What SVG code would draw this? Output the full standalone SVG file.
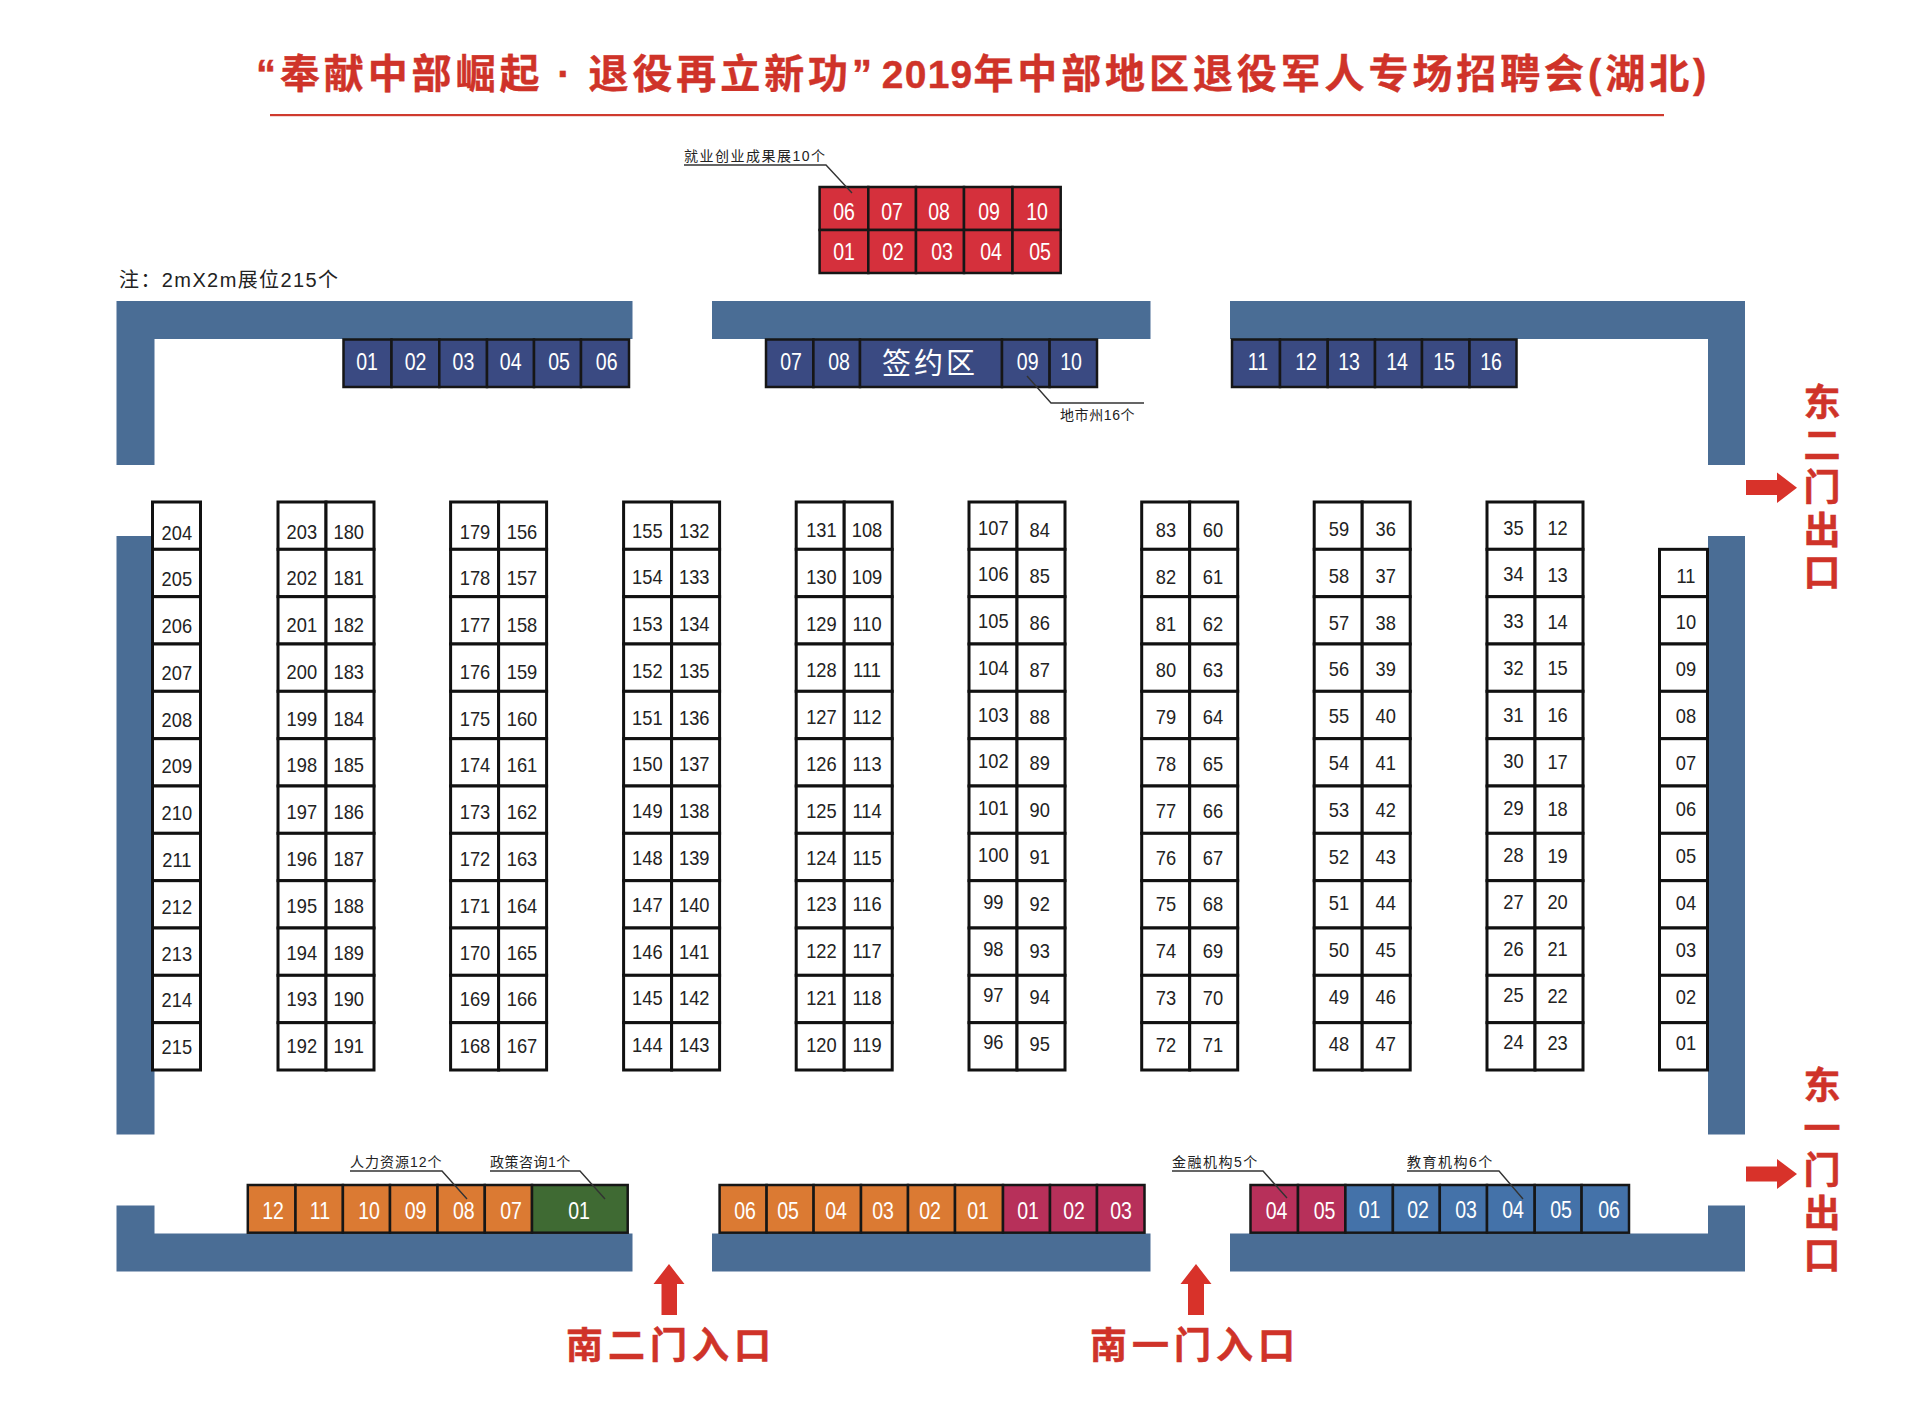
<svg xmlns="http://www.w3.org/2000/svg" width="1920" height="1416" viewBox="0 0 1920 1416">
<style>
text{font-family:"Liberation Sans","Noto Sans CJK SC",sans-serif}
.wall{fill:#4a6d95}
.w{fill:#fff;stroke:#111;stroke-width:3}
.b{stroke:#161616;stroke-width:2.5}
.navy{fill:#3a4a82}.red{fill:#d5303c}.org{fill:#db7a33}.grn{fill:#3f6a33}.mag{fill:#b7305a}.blu{fill:#4472a9}
.n{font-size:21px;fill:#222;text-anchor:middle}
.k{font-size:23px;fill:#fff;text-anchor:middle}
.s{font-size:14px;fill:#222}
.d{font-family:"Noto Sans CJK SC","Liberation Sans",sans-serif;font-size:37px;font-weight:700;fill:#cf3329;stroke:#cf3329;stroke-width:.5}
.h{text-anchor:middle;letter-spacing:5px}
.v{writing-mode:vertical-rl;letter-spacing:5.5px}
.l{fill:none;stroke:#333;stroke-width:1.4}
.a{fill:#d8322a}
</style>
<defs>
<g id="col12">
<rect class="w" x="0" y="502" width="48" height="47.33"/><rect class="w" x="0" y="549.33" width="48" height="47.33"/><rect class="w" x="0" y="596.67" width="48" height="47.33"/><rect class="w" x="0" y="644" width="48" height="47.33"/><rect class="w" x="0" y="691.33" width="48" height="47.33"/><rect class="w" x="0" y="738.67" width="48" height="47.33"/><rect class="w" x="0" y="786" width="48" height="47.33"/><rect class="w" x="0" y="833.33" width="48" height="47.33"/><rect class="w" x="0" y="880.67" width="48" height="47.33"/><rect class="w" x="0" y="928" width="48" height="47.33"/><rect class="w" x="0" y="975.33" width="48" height="47.33"/><rect class="w" x="0" y="1022.67" width="48" height="47.33"/>
</g>
<g id="pair"><use href="#col12"/><use href="#col12" x="48"/></g>
</defs>
<rect width="1920" height="1416" fill="#fff"/>

<g id="title">
<text x="256" y="88" font-size="40" font-weight="700" fill="#cf3329" stroke="#cf3329" stroke-width=".4" letter-spacing="3.9">“奉献中部崛起<tspan dx="14">·</tspan><tspan dx="14">退</tspan>役再立新功”<tspan dx="6" font-size="39" letter-spacing="1.2">2019</tspan>年中部地区退役军人专场招聘会(湖北)</text>
<rect x="270" y="114" width="1394" height="2.2" fill="#cf3a2e"/>
</g>

<g id="walls">
<path class="wall" d="M116.5 301H632.5V339H154.5V465H116.5Z"/>
<rect class="wall" x="712" y="301" width="438.5" height="38"/>
<path class="wall" d="M1230 301H1745V465H1708V339H1230Z"/>
<rect class="wall" x="116.5" y="536" width="38" height="598.5"/>
<rect class="wall" x="1708" y="536" width="37" height="598.5"/>
<path class="wall" d="M116.5 1205.5H154.5V1233.5H632.5V1271.5H116.5Z"/>
<rect class="wall" x="712" y="1233.5" width="438.5" height="38"/>
<path class="wall" d="M1230 1233.5H1708V1205.5H1745V1271.5H1230Z"/>
</g>

<g id="booths-achievement">
<rect class="b red" x="819.6" y="187" width="48.7" height="43"/><rect class="b red" x="868.3" y="187" width="47.7" height="43"/><rect class="b red" x="916" y="187" width="48" height="43"/><rect class="b red" x="964" y="187" width="48.5" height="43"/><rect class="b red" x="1012.5" y="187" width="48.2" height="43"/>
<rect class="b red" x="819.6" y="230" width="48.7" height="43"/><rect class="b red" x="868.3" y="230" width="47.7" height="43"/><rect class="b red" x="916" y="230" width="48" height="43"/><rect class="b red" x="964" y="230" width="48.5" height="43"/><rect class="b red" x="1012.5" y="230" width="48.2" height="43"/>
<text class="k" transform="translate(844 220) scale(.85 1)">06</text><text class="k" transform="translate(892 220) scale(.85 1)">07</text><text class="k" transform="translate(939 220) scale(.85 1)">08</text><text class="k" transform="translate(989 220) scale(.85 1)">09</text><text class="k" transform="translate(1037 220) scale(.85 1)">10</text>
<text class="k" transform="translate(844 260) scale(.85 1)">01</text><text class="k" transform="translate(893 260) scale(.85 1)">02</text><text class="k" transform="translate(942 260) scale(.85 1)">03</text><text class="k" transform="translate(991 260) scale(.85 1)">04</text><text class="k" transform="translate(1040 260) scale(.85 1)">05</text>
</g>

<g id="booths-city-left">
<rect class="b navy" x="343.5" y="339.5" width="48" height="47.5"/><rect class="b navy" x="391.5" y="339.5" width="47.8" height="47.5"/><rect class="b navy" x="439.3" y="339.5" width="47.7" height="47.5"/><rect class="b navy" x="487" y="339.5" width="47" height="47.5"/><rect class="b navy" x="534" y="339.5" width="47" height="47.5"/><rect class="b navy" x="581" y="339.5" width="48" height="47.5"/>
<text class="k" transform="translate(367 370) scale(.85 1)">01</text><text class="k" transform="translate(415.6 370) scale(.85 1)">02</text><text class="k" transform="translate(463.4 370) scale(.85 1)">03</text><text class="k" transform="translate(510.7 370) scale(.85 1)">04</text><text class="k" transform="translate(559 370) scale(.85 1)">05</text><text class="k" transform="translate(606.7 370) scale(.85 1)">06</text>
</g>
<g id="booths-city-mid">
<rect class="b navy" x="766" y="339.5" width="47.4" height="47.5"/><rect class="b navy" x="813.4" y="339.5" width="46.6" height="47.5"/><rect class="b navy" x="860" y="339.5" width="142" height="47.5"/><rect class="b navy" x="1002" y="339.5" width="47.6" height="47.5"/><rect class="b navy" x="1049.6" y="339.5" width="47.4" height="47.5"/>
<text class="k" transform="translate(791 370) scale(.85 1)">07</text><text class="k" transform="translate(839 370) scale(.85 1)">08</text><text class="k" transform="translate(1027.7 370) scale(.85 1)">09</text><text class="k" transform="translate(1071 370) scale(.85 1)">10</text>
<text x="930" y="374" font-size="29" fill="#fff" text-anchor="middle" letter-spacing="3" style="font-family:'Noto Sans CJK SC',sans-serif">签约区</text>
</g>
<g id="booths-city-right">
<rect class="b navy" x="1232" y="339.5" width="48" height="47.5"/><rect class="b navy" x="1280" y="339.5" width="47.7" height="47.5"/><rect class="b navy" x="1327.7" y="339.5" width="47.3" height="47.5"/><rect class="b navy" x="1375" y="339.5" width="47" height="47.5"/><rect class="b navy" x="1422" y="339.5" width="47.5" height="47.5"/><rect class="b navy" x="1469.5" y="339.5" width="47" height="47.5"/>
<text class="k" transform="translate(1258 370) scale(.85 1)">11</text><text class="k" transform="translate(1306 370) scale(.85 1)">12</text><text class="k" transform="translate(1349 370) scale(.85 1)">13</text><text class="k" transform="translate(1397 370) scale(.85 1)">14</text><text class="k" transform="translate(1444 370) scale(.85 1)">15</text><text class="k" transform="translate(1491 370) scale(.85 1)">16</text>
</g>

<g id="booths-south-left">
<rect class="b org" x="247.8" y="1185" width="47.7" height="47.7"/><rect class="b org" x="295.5" y="1185" width="47.4" height="47.7"/><rect class="b org" x="342.9" y="1185" width="47.1" height="47.7"/><rect class="b org" x="390" y="1185" width="47.5" height="47.7"/><rect class="b org" x="437.5" y="1185" width="47.3" height="47.7"/><rect class="b org" x="484.8" y="1185" width="47.2" height="47.7"/><rect class="b grn" x="532" y="1185" width="95.7" height="47.7"/>
<text class="k" transform="translate(273 1219) scale(.85 1)">12</text><text class="k" transform="translate(320 1219) scale(.85 1)">11</text><text class="k" transform="translate(369 1219) scale(.85 1)">10</text><text class="k" transform="translate(415.6 1219) scale(.85 1)">09</text><text class="k" transform="translate(463.8 1219) scale(.85 1)">08</text><text class="k" transform="translate(511 1219) scale(.85 1)">07</text><text class="k" transform="translate(579 1219) scale(.85 1)">01</text>
</g>
<g id="booths-south-mid">
<rect class="b org" x="719.6" y="1185" width="47" height="47.7"/><rect class="b org" x="766.6" y="1185" width="47" height="47.7"/><rect class="b org" x="813.6" y="1185" width="47.4" height="47.7"/><rect class="b org" x="861" y="1185" width="47" height="47.7"/><rect class="b org" x="908" y="1185" width="47" height="47.7"/><rect class="b org" x="955" y="1185" width="48" height="47.7"/><rect class="b mag" x="1003" y="1185" width="47" height="47.7"/><rect class="b mag" x="1050" y="1185" width="47" height="47.7"/><rect class="b mag" x="1097" y="1185" width="47.5" height="47.7"/>
<text class="k" transform="translate(745 1219) scale(.85 1)">06</text><text class="k" transform="translate(788 1219) scale(.85 1)">05</text><text class="k" transform="translate(836 1219) scale(.85 1)">04</text><text class="k" transform="translate(883 1219) scale(.85 1)">03</text><text class="k" transform="translate(930 1219) scale(.85 1)">02</text><text class="k" transform="translate(978 1219) scale(.85 1)">01</text><text class="k" transform="translate(1028 1219) scale(.85 1)">01</text><text class="k" transform="translate(1074 1219) scale(.85 1)">02</text><text class="k" transform="translate(1121 1219) scale(.85 1)">03</text>
</g>
<g id="booths-south-right">
<rect class="b mag" x="1250.5" y="1185" width="47.5" height="47.7"/><rect class="b mag" x="1298" y="1185" width="47.4" height="47.7"/><rect class="b blu" x="1345.4" y="1185" width="47.5" height="47.7"/><rect class="b blu" x="1392.9" y="1185" width="46.9" height="47.7"/><rect class="b blu" x="1439.8" y="1185" width="47.2" height="47.7"/><rect class="b blu" x="1487" y="1185" width="47.7" height="47.7"/><rect class="b blu" x="1534.7" y="1185" width="46.9" height="47.7"/><rect class="b blu" x="1581.6" y="1185" width="47.4" height="47.7"/>
<text class="k" transform="translate(1276.5 1218.5) scale(.85 1)">04</text><text class="k" transform="translate(1324.5 1218.5) scale(.85 1)">05</text><text class="k" transform="translate(1369.5 1218) scale(.85 1)">01</text><text class="k" transform="translate(1418 1218) scale(.85 1)">02</text><text class="k" transform="translate(1466 1218) scale(.85 1)">03</text><text class="k" transform="translate(1513 1218) scale(.85 1)">04</text><text class="k" transform="translate(1561 1218) scale(.85 1)">05</text><text class="k" transform="translate(1609 1218) scale(.85 1)">06</text>
</g>

<g id="stands">
<use href="#col12" x="152.5"/>
<use href="#pair" x="278"/><use href="#pair" x="450.6"/><use href="#pair" x="623.6"/><use href="#pair" x="796.2"/><use href="#pair" x="969"/><use href="#pair" x="1141.7"/><use href="#pair" x="1314.2"/><use href="#pair" x="1487"/>
<rect class="w" x="1659.5" y="549.33" width="48" height="47.33"/><rect class="w" x="1659.5" y="596.67" width="48" height="47.33"/><rect class="w" x="1659.5" y="644" width="48" height="47.33"/><rect class="w" x="1659.5" y="691.33" width="48" height="47.33"/><rect class="w" x="1659.5" y="738.67" width="48" height="47.33"/><rect class="w" x="1659.5" y="786" width="48" height="47.33"/><rect class="w" x="1659.5" y="833.33" width="48" height="47.33"/><rect class="w" x="1659.5" y="880.67" width="48" height="47.33"/><rect class="w" x="1659.5" y="928" width="48" height="47.33"/><rect class="w" x="1659.5" y="975.33" width="48" height="47.33"/><rect class="w" x="1659.5" y="1022.67" width="48" height="47.33"/>
</g>

<g id="stand-numbers">
<g transform="translate(176.8 539.5) scale(.87 1)"><text class="n">204</text><text class="n" y="46.8">205</text><text class="n" y="93.6">206</text><text class="n" y="140.4">207</text><text class="n" y="187.2">208</text><text class="n" y="234">209</text><text class="n" y="280.8">210</text><text class="n" y="327.6">211</text><text class="n" y="374.4">212</text><text class="n" y="421.2">213</text><text class="n" y="468">214</text><text class="n" y="514.8">215</text></g>
<g transform="translate(301.8 538.5) scale(.87 1)"><text class="n">203</text><text class="n" y="46.8">202</text><text class="n" y="93.6">201</text><text class="n" y="140.4">200</text><text class="n" y="187.2">199</text><text class="n" y="234">198</text><text class="n" y="280.8">197</text><text class="n" y="327.6">196</text><text class="n" y="374.4">195</text><text class="n" y="421.2">194</text><text class="n" y="468">193</text><text class="n" y="514.8">192</text></g>
<g transform="translate(348.7 538.5) scale(.87 1)"><text class="n">180</text><text class="n" y="46.8">181</text><text class="n" y="93.6">182</text><text class="n" y="140.4">183</text><text class="n" y="187.2">184</text><text class="n" y="234">185</text><text class="n" y="280.8">186</text><text class="n" y="327.6">187</text><text class="n" y="374.4">188</text><text class="n" y="421.2">189</text><text class="n" y="468">190</text><text class="n" y="514.8">191</text></g>
<g transform="translate(475 538.5) scale(.87 1)"><text class="n">179</text><text class="n" y="46.8">178</text><text class="n" y="93.6">177</text><text class="n" y="140.4">176</text><text class="n" y="187.2">175</text><text class="n" y="234">174</text><text class="n" y="280.8">173</text><text class="n" y="327.6">172</text><text class="n" y="374.4">171</text><text class="n" y="421.2">170</text><text class="n" y="468">169</text><text class="n" y="514.8">168</text></g>
<g transform="translate(522 538.5) scale(.87 1)"><text class="n">156</text><text class="n" y="46.8">157</text><text class="n" y="93.6">158</text><text class="n" y="140.4">159</text><text class="n" y="187.2">160</text><text class="n" y="234">161</text><text class="n" y="280.8">162</text><text class="n" y="327.6">163</text><text class="n" y="374.4">164</text><text class="n" y="421.2">165</text><text class="n" y="468">166</text><text class="n" y="514.8">167</text></g>
<g transform="translate(647.3 537.5) scale(.87 1)"><text class="n">155</text><text class="n" y="46.8">154</text><text class="n" y="93.6">153</text><text class="n" y="140.4">152</text><text class="n" y="187.2">151</text><text class="n" y="234">150</text><text class="n" y="280.8">149</text><text class="n" y="327.6">148</text><text class="n" y="374.4">147</text><text class="n" y="421.2">146</text><text class="n" y="468">145</text><text class="n" y="514.8">144</text></g>
<g transform="translate(694.2 537.5) scale(.87 1)"><text class="n">132</text><text class="n" y="46.8">133</text><text class="n" y="93.6">134</text><text class="n" y="140.4">135</text><text class="n" y="187.2">136</text><text class="n" y="234">137</text><text class="n" y="280.8">138</text><text class="n" y="327.6">139</text><text class="n" y="374.4">140</text><text class="n" y="421.2">141</text><text class="n" y="468">142</text><text class="n" y="514.8">143</text></g>
<g transform="translate(821.4 537) scale(.87 1)"><text class="n">131</text><text class="n" y="46.8">130</text><text class="n" y="93.6">129</text><text class="n" y="140.4">128</text><text class="n" y="187.2">127</text><text class="n" y="234">126</text><text class="n" y="280.8">125</text><text class="n" y="327.6">124</text><text class="n" y="374.4">123</text><text class="n" y="421.2">122</text><text class="n" y="468">121</text><text class="n" y="514.8">120</text></g>
<g transform="translate(867 537) scale(.87 1)"><text class="n">108</text><text class="n" y="46.8">109</text><text class="n" y="93.6">110</text><text class="n" y="140.4">111</text><text class="n" y="187.2">112</text><text class="n" y="234">113</text><text class="n" y="280.8">114</text><text class="n" y="327.6">115</text><text class="n" y="374.4">116</text><text class="n" y="421.2">117</text><text class="n" y="468">118</text><text class="n" y="514.8">119</text></g>
<g transform="translate(993.3 534.5) scale(.87 1)"><text class="n">107</text><text class="n" y="46.8">106</text><text class="n" y="93.6">105</text><text class="n" y="140.4">104</text><text class="n" y="187.2">103</text><text class="n" y="234">102</text><text class="n" y="280.8">101</text><text class="n" y="327.6">100</text><text class="n" y="374.4">99</text><text class="n" y="421.2">98</text><text class="n" y="468">97</text><text class="n" y="514.8">96</text></g>
<g transform="translate(1039.7 536.5) scale(.87 1)"><text class="n">84</text><text class="n" y="46.8">85</text><text class="n" y="93.6">86</text><text class="n" y="140.4">87</text><text class="n" y="187.2">88</text><text class="n" y="234">89</text><text class="n" y="280.8">90</text><text class="n" y="327.6">91</text><text class="n" y="374.4">92</text><text class="n" y="421.2">93</text><text class="n" y="468">94</text><text class="n" y="514.8">95</text></g>
<g transform="translate(1166 537) scale(.87 1)"><text class="n">83</text><text class="n" y="46.8">82</text><text class="n" y="93.6">81</text><text class="n" y="140.4">80</text><text class="n" y="187.2">79</text><text class="n" y="234">78</text><text class="n" y="280.8">77</text><text class="n" y="327.6">76</text><text class="n" y="374.4">75</text><text class="n" y="421.2">74</text><text class="n" y="468">73</text><text class="n" y="514.8">72</text></g>
<g transform="translate(1213 537) scale(.87 1)"><text class="n">60</text><text class="n" y="46.8">61</text><text class="n" y="93.6">62</text><text class="n" y="140.4">63</text><text class="n" y="187.2">64</text><text class="n" y="234">65</text><text class="n" y="280.8">66</text><text class="n" y="327.6">67</text><text class="n" y="374.4">68</text><text class="n" y="421.2">69</text><text class="n" y="468">70</text><text class="n" y="514.8">71</text></g>
<g transform="translate(1339 536) scale(.87 1)"><text class="n">59</text><text class="n" y="46.8">58</text><text class="n" y="93.6">57</text><text class="n" y="140.4">56</text><text class="n" y="187.2">55</text><text class="n" y="234">54</text><text class="n" y="280.8">53</text><text class="n" y="327.6">52</text><text class="n" y="374.4">51</text><text class="n" y="421.2">50</text><text class="n" y="468">49</text><text class="n" y="514.8">48</text></g>
<g transform="translate(1385.7 536) scale(.87 1)"><text class="n">36</text><text class="n" y="46.8">37</text><text class="n" y="93.6">38</text><text class="n" y="140.4">39</text><text class="n" y="187.2">40</text><text class="n" y="234">41</text><text class="n" y="280.8">42</text><text class="n" y="327.6">43</text><text class="n" y="374.4">44</text><text class="n" y="421.2">45</text><text class="n" y="468">46</text><text class="n" y="514.8">47</text></g>
<g transform="translate(1513.5 534.5) scale(.87 1)"><text class="n">35</text><text class="n" y="46.8">34</text><text class="n" y="93.6">33</text><text class="n" y="140.4">32</text><text class="n" y="187.2">31</text><text class="n" y="234">30</text><text class="n" y="280.8">29</text><text class="n" y="327.6">28</text><text class="n" y="374.4">27</text><text class="n" y="421.2">26</text><text class="n" y="468">25</text><text class="n" y="514.8">24</text></g>
<g transform="translate(1557.6 535) scale(.87 1)"><text class="n">12</text><text class="n" y="46.8">13</text><text class="n" y="93.6">14</text><text class="n" y="140.4">15</text><text class="n" y="187.2">16</text><text class="n" y="234">17</text><text class="n" y="280.8">18</text><text class="n" y="327.6">19</text><text class="n" y="374.4">20</text><text class="n" y="421.2">21</text><text class="n" y="468">22</text><text class="n" y="514.8">23</text></g>
<g transform="translate(1686 582.5) scale(.87 1)"><text class="n">11</text><text class="n" y="46.8">10</text><text class="n" y="93.6">09</text><text class="n" y="140.4">08</text><text class="n" y="187.2">07</text><text class="n" y="234">06</text><text class="n" y="280.8">05</text><text class="n" y="327.6">04</text><text class="n" y="374.4">03</text><text class="n" y="421.2">02</text><text class="n" y="468">01</text></g>
</g>

<g id="connectors">
<path class="l" d="M684 165H826L852 193"/>
<path class="l" d="M1027 376L1051 403H1144"/>
<path class="l" d="M350 1171H442L467 1199"/>
<path class="l" d="M490 1171H580L605 1199"/>
<path class="l" d="M1172 1171H1263L1287 1198"/>
<path class="l" d="M1407 1171H1499L1523 1199"/>
</g>

<g id="labels">
<text x="119" y="287" font-size="20" fill="#222" letter-spacing="1.4">注：2mX2m展位215个</text>
<text class="s" x="684" y="161" letter-spacing="1.5">就业创业成果展10个</text>
<text class="s" x="1060" y="420" letter-spacing=".6">地市州16个</text>
<text class="s" x="350" y="1167" letter-spacing="1">人力资源12个</text>
<text class="s" x="490" y="1167" letter-spacing=".5">政策咨询1个</text>
<text class="s" x="1172" y="1167" letter-spacing="1.5">金融机构5个</text>
<text class="s" x="1407" y="1167" letter-spacing="1.5">教育机构6个</text>
</g>

<g id="door-south-2">
<path class="a" d="M669 1264L684.5 1284H677V1315H661.5V1284H653.5Z"/>
<text class="d h" x="671" y="1359">南二门入口</text>
</g>
<g id="door-south-1">
<path class="a" d="M1196 1264L1211.5 1284H1204V1315H1188V1284H1180.5Z"/>
<text class="d h" x="1195" y="1359">南一门入口</text>
</g>
<g id="door-east-2">
<path class="a" d="M1746 480H1777V472.5L1797 487.7L1777 503V495H1746Z"/>
<text class="d v" x="1822" y="383.5">东二门出口</text>
</g>
<g id="door-east-1">
<path class="a" d="M1746 1166.5H1777V1159L1797 1174L1777 1189V1181.5H1746Z"/>
<text class="d v" x="1822" y="1066.5">东一门出口</text>
</g>
</svg>
